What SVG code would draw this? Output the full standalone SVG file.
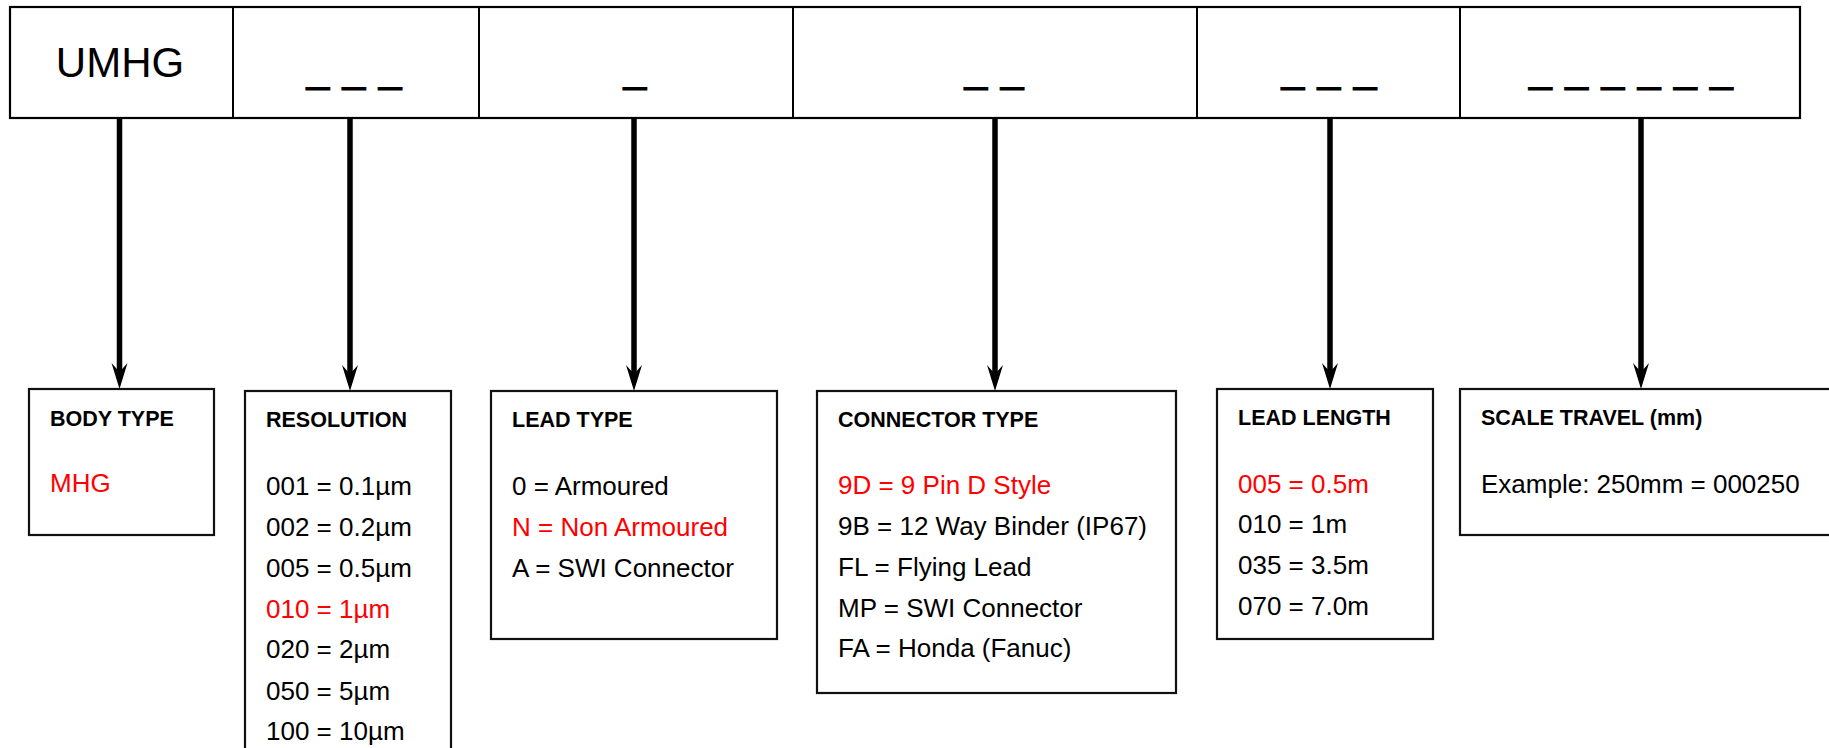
<svg xmlns="http://www.w3.org/2000/svg" width="1829" height="748" viewBox="0 0 1829 748">
<style>
.bar{fill:#fff;stroke:#000;stroke-width:2.2}
.div{stroke:#000;stroke-width:2}
.box{fill:#fff;stroke:#111;stroke-width:2.2}
.big{font-family:"Liberation Sans",Arial,sans-serif;font-size:42px;fill:#000;text-anchor:middle}
.und{font-family:"Liberation Sans",Arial,sans-serif;font-size:41px;fill:#000;stroke:#000;stroke-width:1;word-spacing:2px;text-anchor:middle}
.hd{font-family:"Liberation Sans",Arial,sans-serif;font-size:21.5px;font-weight:bold;fill:#000}
.tx{font-family:"Liberation Sans",Arial,sans-serif;font-size:26px;fill:#000}
.red{fill:#ff0000}
.arr{stroke:#000;stroke-width:5.5;fill:none;marker-end:url(#ah)}
</style>
<defs>
<marker id="ah" markerUnits="userSpaceOnUse" orient="auto" viewBox="-10 -9 28 18" markerWidth="28" markerHeight="18" refX="0" refY="0">
<path d="M17,0 L-9,-8 L0,0 L-9,8 Z" fill="#000"/>
</marker>
</defs>
<rect width="1829" height="748" fill="#fff"/>
<g id="code-bar">
<rect class="bar" x="10" y="7" width="1790" height="111"/>
<line class="div" x1="233" y1="7" x2="233" y2="118"/>
<line class="div" x1="479" y1="7" x2="479" y2="118"/>
<line class="div" x1="793" y1="7" x2="793" y2="118"/>
<line class="div" x1="1197" y1="7" x2="1197" y2="118"/>
<line class="div" x1="1460" y1="7" x2="1460" y2="118"/>
<text class="big" x="120" y="77">UMHG</text>
<text class="und" x="354" y="82">_ _ _</text>
<text class="und" x="635" y="82">_</text>
<text class="und" x="994" y="82">_ _</text>
<text class="und" x="1329" y="82">_ _ _</text>
<text class="und" x="1631" y="82">_ _ _ _ _ _</text>
</g>
<g id="connectors">
<line class="arr" x1="119.5" y1="118" x2="119.5" y2="372"/>
<line class="arr" x1="350" y1="118" x2="350" y2="374"/>
<line class="arr" x1="634" y1="118" x2="634" y2="374"/>
<line class="arr" x1="995" y1="118" x2="995" y2="374"/>
<line class="arr" x1="1330" y1="118" x2="1330" y2="372"/>
<line class="arr" x1="1641" y1="118" x2="1641" y2="372"/>
</g>
<g id="body-type">
<rect class="box" x="29" y="389" width="185" height="146"/>
<text class="hd" x="50" y="426">BODY TYPE</text>
<text class="tx red" x="50" y="492">MHG</text>
</g>
<g id="resolution">
<rect class="box" x="245" y="391" width="206" height="400"/>
<text class="hd" x="266" y="427">RESOLUTION</text>
<text class="tx" x="266" y="495">001 = 0.1µm</text>
<text class="tx" x="266" y="536">002 = 0.2µm</text>
<text class="tx" x="266" y="577">005 = 0.5µm</text>
<text class="tx red" x="266" y="618">010 = 1µm</text>
<text class="tx" x="266" y="658">020 = 2µm</text>
<text class="tx" x="266" y="700">050 = 5µm</text>
<text class="tx" x="266" y="740">100 = 10µm</text>
</g>
<g id="lead-type">
<rect class="box" x="491" y="391" width="286" height="248"/>
<text class="hd" x="512" y="427">LEAD TYPE</text>
<text class="tx" x="512" y="495">0 = Armoured</text>
<text class="tx red" x="512" y="536">N = Non Armoured</text>
<text class="tx" x="512" y="577">A = SWI Connector</text>
</g>
<g id="connector-type">
<rect class="box" x="817" y="391" width="359" height="302"/>
<text class="hd" x="838" y="427">CONNECTOR TYPE</text>
<text class="tx red" x="838" y="494">9D = 9 Pin D Style</text>
<text class="tx" x="838" y="535">9B = 12 Way Binder (IP67)</text>
<text class="tx" x="838" y="576">FL = Flying Lead</text>
<text class="tx" x="838" y="617">MP = SWI Connector</text>
<text class="tx" x="838" y="657">FA = Honda (Fanuc)</text>
</g>
<g id="lead-length">
<rect class="box" x="1217" y="389" width="216" height="250"/>
<text class="hd" x="1238" y="425">LEAD LENGTH</text>
<text class="tx red" x="1238" y="493">005 = 0.5m</text>
<text class="tx" x="1238" y="533">010 = 1m</text>
<text class="tx" x="1238" y="574">035 = 3.5m</text>
<text class="tx" x="1238" y="615">070 = 7.0m</text>
</g>
<g id="scale-travel">
<rect class="box" x="1460" y="389" width="400" height="146"/>
<text class="hd" x="1481" y="425">SCALE TRAVEL (mm)</text>
<text class="tx" x="1481" y="493">Example: 250mm = 000250</text>
</g>
</svg>
